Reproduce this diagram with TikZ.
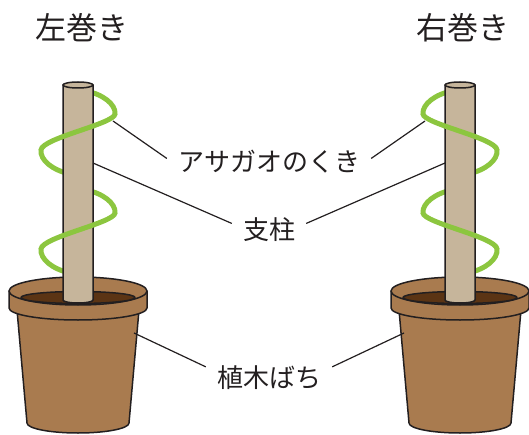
\documentclass[tikz,border=0pt]{standalone}
\usepackage{fontspec}
\newfontfamily\jpfont{Noto Sans CJK JP}
\usepackage{tikz}
\usetikzlibrary{positioning}
\definecolor{potbrown}{HTML}{A97B4F}
\definecolor{soilbrown}{HTML}{5B3414}
\definecolor{polebeige}{HTML}{C6B59B}
\definecolor{vinegreen}{HTML}{8CC63F}
\definecolor{inkline}{HTML}{231F20}
\tikzset{
  potline/.style={draw=inkline, line width=1.5pt, line join=round},
  vine/.style={draw=vinegreen, line width=5pt},
  leader/.style={draw=inkline, line width=1.2pt},
  title/.style={font=\jpfont\fontsize{31}{31}\selectfont, text=inkline},
  partlabel/.style={font=\jpfont\fontsize{26}{26}\selectfont, text=inkline, inner xsep=11pt},
}
% one turn of the vine, top at y = #1
\newcommand\vineturn[1]{%
  \draw[vine] (8,#1-1) .. controls (24,#1+2) and (38,#1+12) .. (37,#1+22)
    .. controls (36,#1+32) and (-36,#1+46) .. (-37,#1+58)
    .. controls (-38,#1+68) and (-26,#1+78) .. (-8,#1+82);}
% the part of the turn that passes in front of the pole
\newcommand\vinefront[1]{%
  \draw[vine] (37,#1+22) .. controls (36,#1+32) and (-36,#1+46) .. (-37,#1+58);}
% pot, soil, pole and vine; #1 prefixes the coordinate names
\newcommand\potplant[1]{%
  \draw[potline,fill=potbrown] (-61,310) -- (-51,423)
    arc[start angle=180,end angle=0,x radius=51,y radius=10] -- (61,310) -- cycle;
  \draw[potline,fill=potbrown] (-69,291) -- (-69,308)
    arc[start angle=180,end angle=0,x radius=69,y radius=12] -- (69,291) -- cycle;
  \draw[potline,fill=potbrown] (0,291) ellipse[x radius=69,y radius=14];
  \draw[potline,fill=soilbrown] (0,297.5) ellipse[x radius=57,y radius=6];
  \vineturn{92}
  \vineturn{191}
  \draw[potline,fill=polebeige] (-15,85) -- (-15,300)
    arc[start angle=180,end angle=0,x radius=15,y radius=3] -- (15,85) -- cycle;
  \draw[potline,fill=polebeige] (0,85) ellipse[x radius=15,y radius=3];
  \begin{scope}
    \clip (-16.5,80) rectangle (16.5,305);
    \vinefront{92}
    \vinefront{191}
  \end{scope}
  \coordinate (#1vine) at (35,121);
  \coordinate (#1pole) at (15,163);
  \coordinate (#1pot) at (56,333);}

\begin{document}
\begin{tikzpicture}[x=1pt,y=-1pt]
  \useasboundingbox (0,0) rectangle (529,435);
  \begin{scope}[shift={(78,0)}]
    \potplant{l}
  \end{scope}
  \begin{scope}[shift={(460,0)},xscale=-1]
    \potplant{r}
  \end{scope}
  \node[title] (lefttitle) at (82,28) {左巻き};
  \node[title] (righttitle) at (463,28) {右巻き};
  \node[partlabel] (vinelab) at (269,162) {アサガオのくき};
  \node[partlabel] (polelab) at (269,230) {支柱};
  \node[partlabel] (potlab) at (269,378) {植木ばち};
  \draw[leader] (lvine) -- (vinelab.178);
  \draw[leader] (rvine) -- (vinelab.2);
  \draw[leader] (lpole) -- (polelab.170);
  \draw[leader] (rpole) -- (polelab.10);
  \draw[leader] (lpot) -- (potlab.170);
  \draw[leader] (rpot) -- (potlab.10);
\end{tikzpicture}
\end{document}
